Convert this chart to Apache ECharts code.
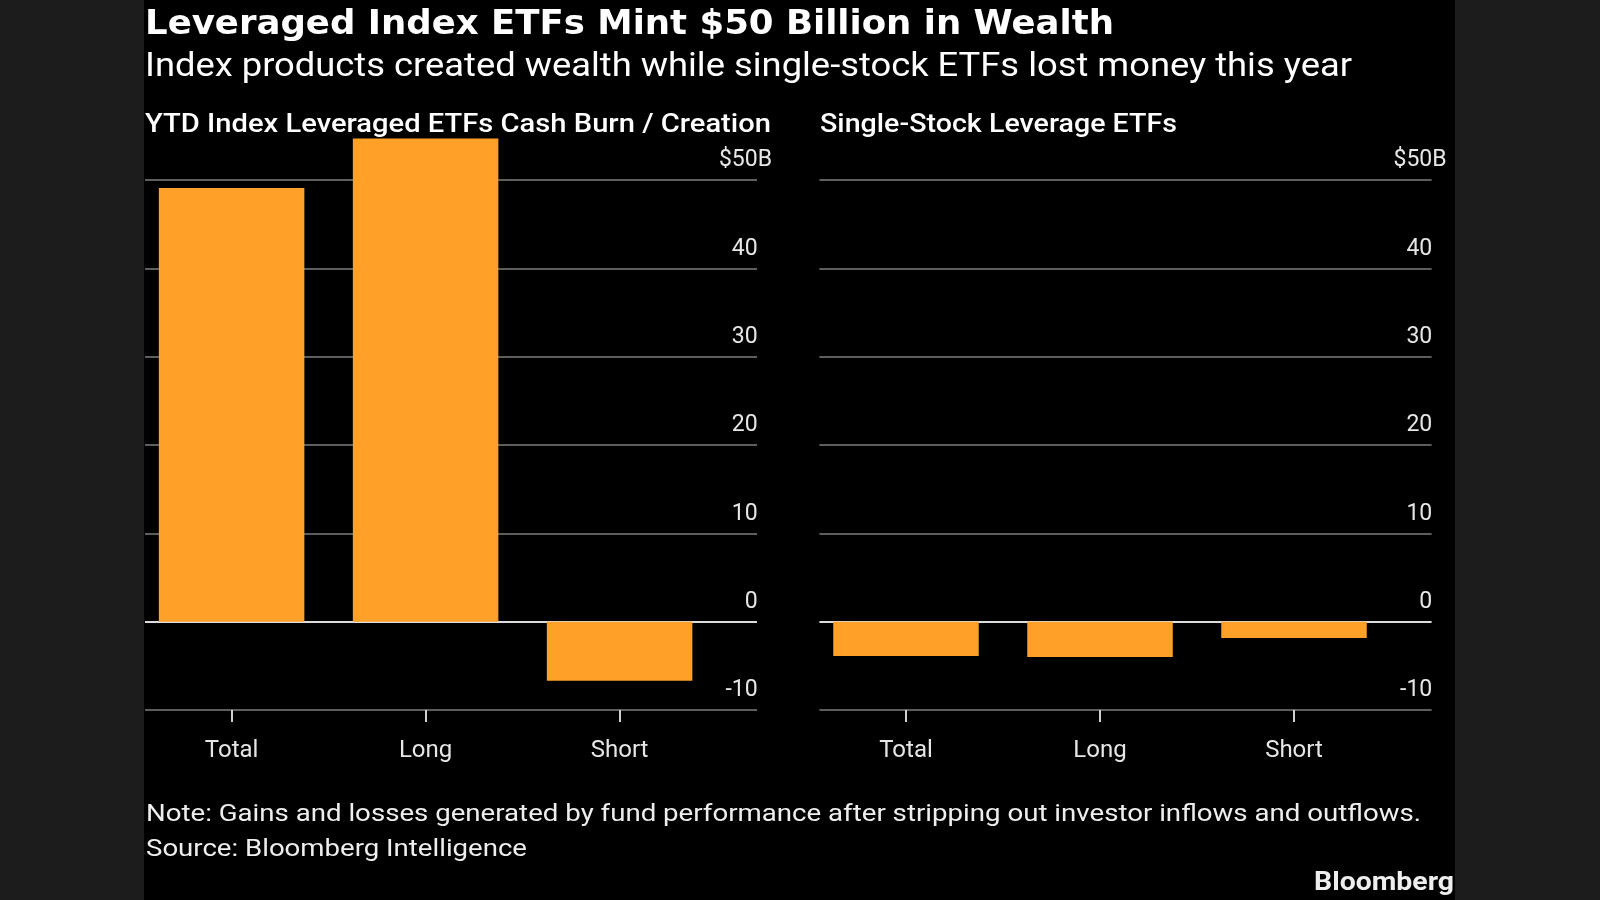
<!DOCTYPE html>
<html>
<head>
<meta charset="utf-8">
<script src="https://cdn.jsdelivr.net/npm/echarts@6/dist/echarts.min.js"></script>
<style>
html,body{margin:0;padding:0;background:#1c1c1c;}
#chart{width:1600px;height:900px;}
</style>
</head>
<body>
<div id="chart"></div>
<script>
// ---- data ----
const categories = ['Total', 'Long', 'Short'];
const indexValues = [49.1, 54.7, -6.7];          // YTD Index Leveraged ETFs ($B)
const singleStockValues = [-3.9, -4.0, -1.85];   // Single-Stock Leverage ETFs ($B)
const yTicks = [-10, 0, 10, 20, 30, 40, 50];
const titleText = 'Leveraged Index ETFs Mint $50 Billion in Wealth';
const subtitleText = 'Index products created wealth while single-stock ETFs lost money this year';
const panelTitles = ['YTD Index Leveraged ETFs Cash Burn / Creation', 'Single-Stock Leverage ETFs'];
const noteText = 'Note: Gains and losses generated by fund performance after stripping out investor inflows and outflows.';
const sourceText = 'Source: Bloomberg Intelligence';

const FONT = 'Roboto, "Noto Sans", sans-serif';
const ORANGE = '#FFA028';
const GRID_TOP = 180, GRID_H = 530;
const yMin = yTicks[0], yMax = yTicks[yTicks.length - 1];

const gridColors = yTicks.map(v => v === 0 ? '#dcdcdc' : '#5e5e5e');

function lineGridYAxis(gi) {
  return {
    gridIndex: gi, type: 'value', min: yMin, max: yMax, interval: 10, position: 'right',
    axisLine: {show: false}, axisTick: {show: false},
    splitLine: {show: true, lineStyle: {color: gridColors, width: 2}},
    axisLabel: {
      inside: true, margin: -15, color: '#e6e6e6', fontSize: 23, fontFamily: FONT,
      verticalAlign: 'bottom', lineHeight: 23, padding: [0, 0, 8, 0],
      formatter: v => v === yMax ? '$' + v + 'B' : v + '{h|B}',
      rich: {h: {color: 'transparent', fontSize: 23, fontFamily: FONT}}
    }
  };
}
function hiddenYAxis(gi) {
  return {gridIndex: gi, type: 'value', min: yMin, max: yMax, show: false, splitLine: {show: false}};
}
function hiddenXAxis(gi) {
  return {gridIndex: gi, type: 'category', data: categories, show: false};
}
function catXAxis(gi) {
  return {
    gridIndex: gi, type: 'category', data: categories, position: 'bottom',
    axisLine: {show: false, onZero: false},
    axisTick: {show: true, alignWithLabel: true, length: 12, inside: false, lineStyle: {color: '#cfcfcf', width: 2}},
    axisLabel: {color: '#e6e6e6', fontSize: 24, fontFamily: FONT, margin: 29}
  };
}

const measureCtx = document.createElement('canvas').getContext('2d');
// text placed at (x,y), stretched horizontally to span targetWidth
function fitTxt(text, x, y, size, weight, family, align, color, targetWidth) {
  const font = weight + ' ' + size + 'px ' + family;
  measureCtx.font = font;
  const w = measureCtx.measureText(text).width;
  const s = targetWidth ? targetWidth / w : 1;
  return {type: 'text', x: x, y: y, scaleX: s, silent: true,
    style: {text: text, x: 0, y: 0, fill: color || '#ffffff', font: font,
      textAlign: align || 'left', textVerticalAlign: 'middle'}};
}

const chart = echarts.init(document.getElementById('chart'), null, {renderer: 'canvas'});

chart.setOption({
  backgroundColor: '#1c1c1c',
  animation: false,
  graphic: [
    {type: 'rect', shape: {x: 144, y: 0, width: 1311, height: 900}, style: {fill: '#000000'}, z: -10, silent: true},
    fitTxt(titleText, 145, 25, 33, 'bold', '"DejaVu Sans", sans-serif', 'left', '#ffffff', 969),
    fitTxt(subtitleText, 145, 68, 33.5, 'normal', FONT, 'left', '#ffffff', 1207),
    fitTxt(panelTitles[0], 145, 125, 26, '500', FONT, 'left', '#ffffff', 626),
    fitTxt(panelTitles[1], 820, 125, 26, '500', FONT, 'left', '#ffffff', 357),
    fitTxt(noteText, 146, 815, 24.5, 'normal', FONT, 'left', '#eeeeee', 1275),
    fitTxt(sourceText, 146, 850, 24.5, 'normal', FONT, 'left', '#eeeeee', 381),
    fitTxt('Bloomberg', 1454, 884, 25, 'bold', FONT, 'right', '#eeeeee', 140)
  ],
  grid: [
    {left: 145, top: GRID_TOP, width: 612, height: GRID_H},
    {left: 134.6, top: GRID_TOP, width: 582, height: GRID_H},
    {left: 819.4, top: GRID_TOP, width: 612.2, height: GRID_H},
    {left: 809, top: GRID_TOP, width: 582, height: GRID_H}
  ],
  xAxis: [hiddenXAxis(0), catXAxis(1), hiddenXAxis(2), catXAxis(3)],
  yAxis: [lineGridYAxis(0), hiddenYAxis(1), lineGridYAxis(2), hiddenYAxis(3)],
  series: [
    {type: 'bar', xAxisIndex: 1, yAxisIndex: 1, data: indexValues, barCategoryGap: '25%',
      itemStyle: {color: ORANGE}, clip: false, z: 3},
    {type: 'bar', xAxisIndex: 3, yAxisIndex: 3, data: singleStockValues, barCategoryGap: '25%',
      itemStyle: {color: ORANGE}, clip: false, z: 3}
  ]
});
</script>
</body>
</html>
